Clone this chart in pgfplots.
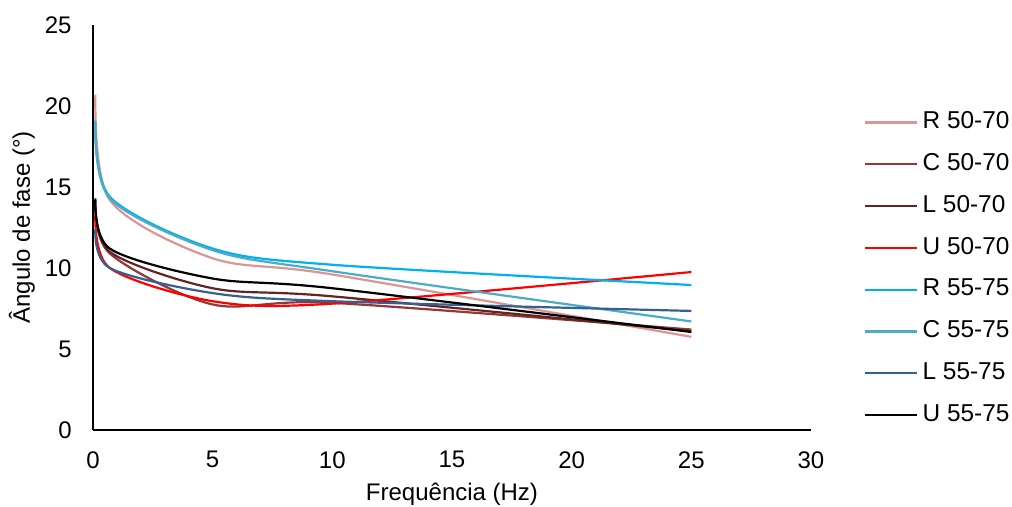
\documentclass[border=0pt]{standalone}
\usepackage{pgfplots}
\pgfplotsset{compat=1.18}
\usepackage{fontspec}
\setmainfont{Liberation Sans}
\definecolor{cR50}{RGB}{217,150,148}
\definecolor{cC50}{RGB}{149,55,53}
\definecolor{cL50}{RGB}{99,37,35}
\definecolor{cU50}{RGB}{255,0,0}
\definecolor{cR55}{RGB}{0,176,240}
\definecolor{cC55}{RGB}{75,172,198}
\definecolor{cL55}{RGB}{55,96,146}
\definecolor{cU55}{RGB}{0,0,0}
\begin{document}
\begin{tikzpicture}
\begin{axis}[
  scale only axis, width=359pt, height=202.5pt,
  xmin=0, xmax=30, ymin=0, ymax=25,
  xtick={0,5,...,30}, ytick={0,5,...,25},
  axis x line*=bottom, axis y line*=left,
  axis line style={line width=0.75pt, black},
  major tick length=0pt,
  /pgf/number format/assume math mode=true,
  tick label style={font=\fontsize{12}{14}\selectfont, inner sep=0pt},
  xticklabel style={anchor=north, yshift=-10.5pt},
  yticklabel style={anchor=east, xshift=-10.5pt},
  xlabel={Frequência (Hz)}, ylabel={Ângulo de fase (°)},
  label style={font=\fontsize{12}{14}\selectfont},
  xlabel style={at={(rel axis cs:0.5,-0.158)}, anchor=center},
  ylabel style={at={(rel axis cs:-0.0989,0.5)}, anchor=center},
  legend style={at={(rel axis cs:1.0641,0.4037)}, anchor=west, draw=none, fill=none,
    font=\fontsize{12.2}{14}\selectfont, row sep=12.3pt,
    nodes={inner sep=0pt, text height=8.6pt, text depth=0pt},
    /tikz/every odd column/.append style={column sep=2.5pt}},
  legend cell align=left,
  legend image code/.code={\draw[#1] (0pt,-1.2pt) -- (26pt,-1.2pt);},
  every axis plot/.append style={line width=1.1pt, smooth, tension=0.5, no markers},
]
\addplot[cR50] coordinates {(0.1,20.7) (0.7,14.2) (5,10.6) (10,9.6) (25,5.75)};
\addlegendentry{R 50-70}
\addplot[cC50] coordinates {(0.1,14.2) (0.7,10.9) (5,7.75) (10,7.85) (25,6.2)};
\addlegendentry{C 50-70}
\addplot[cL50] coordinates {(0.1,14.2) (0.7,11.0) (5,8.75) (10,8.25) (25,6.1)};
\addlegendentry{L 50-70}
\addplot[cU50] coordinates {(0.1,13.3) (0.7,10.0) (5,7.95) (10,7.8) (25,9.75)};
\addlegendentry{U 50-70}
\addplot[cR55] coordinates {(0.1,19.1) (0.7,14.4) (5,11.2) (10,10.2) (25,8.95)};
\addlegendentry{R 55-75}
\addplot[cC55] coordinates {(0.1,19.0) (0.7,14.3) (5,11.1) (10,9.8) (25,6.7)};
\addlegendentry{C 55-75}
\addplot[cL55] coordinates {(0.1,12.4) (0.7,10.0) (5,8.45) (10,7.95) (25,7.35)};
\addlegendentry{L 55-75}
\addplot[cU55] coordinates {(0.1,14.3) (0.7,11.2) (5,9.35) (10,8.75) (25,6.05)};
\addlegendentry{U 55-75}
\coordinate (bl) at (rel axis cs:0,0);
\end{axis}
\pgfresetboundingbox
\path ([shift={(-46.5pt,-38.5pt)}]bl) rectangle ++(506pt,253.5pt);
\end{tikzpicture}
\end{document}
